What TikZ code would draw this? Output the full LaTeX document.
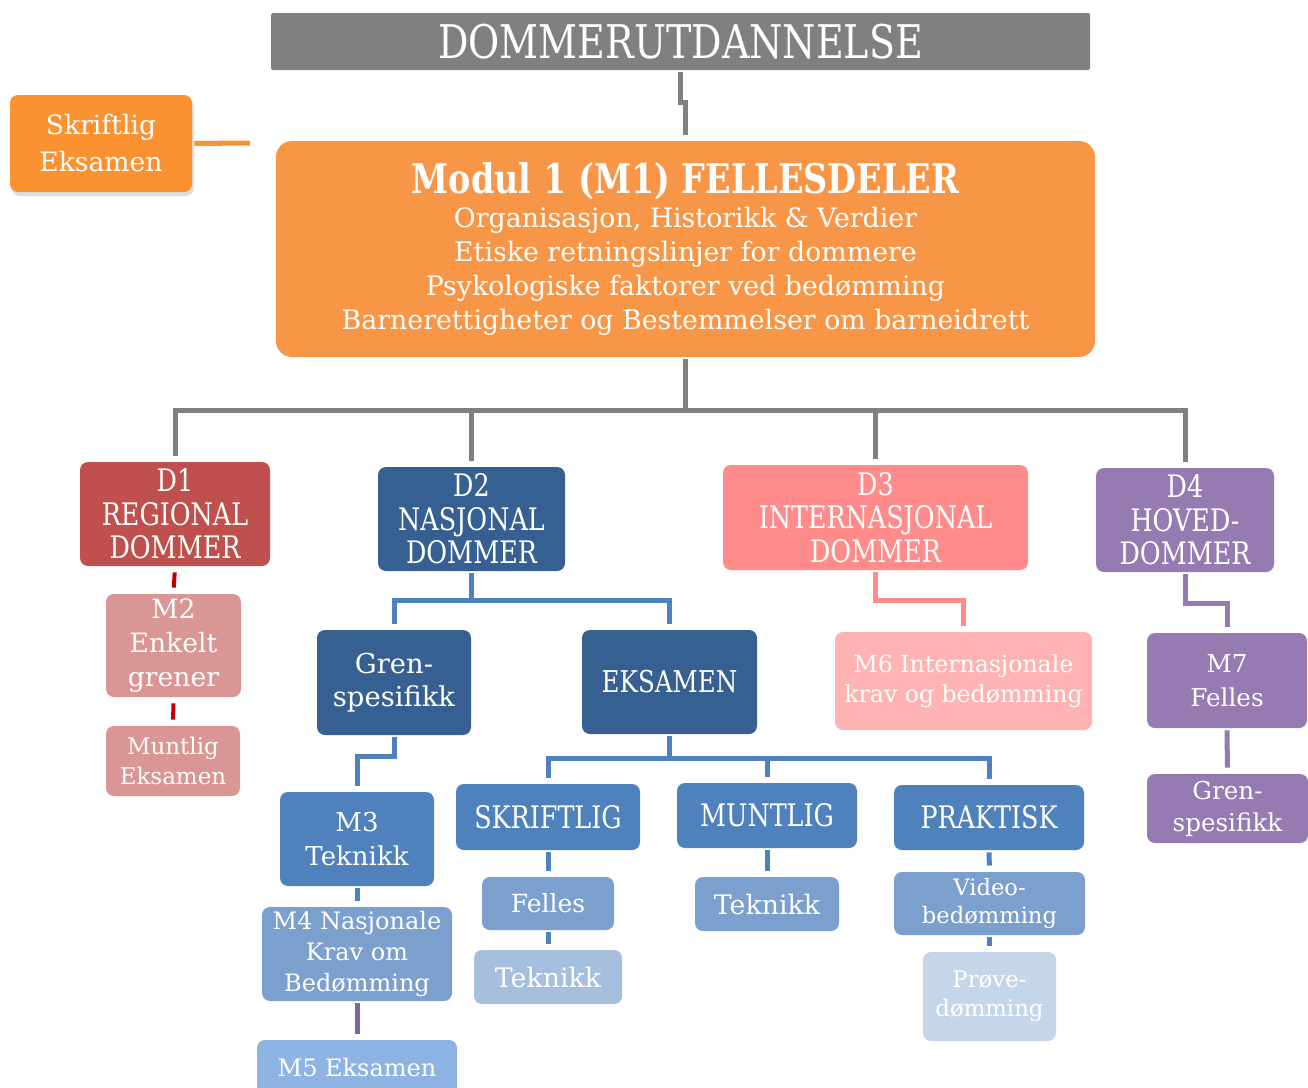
\documentclass[tikz,border=0pt]{standalone}
\usepackage{fontspec}
\setmainfont{DejaVu Serif}
\newfontfamily\capsfont{DejaVu Serif}[FakeStretch=0.82]
\usetikzlibrary{shadows}

\definecolor{titlegray}{HTML}{808080}
\definecolor{m1orange}{HTML}{F79646}
\definecolor{skrorange}{HTML}{FA9232}
\definecolor{d1red}{HTML}{C0504D}
\definecolor{m2pink}{HTML}{DA9694}
\definecolor{redline}{HTML}{C00000}
\definecolor{d2blue}{HTML}{366092}
\definecolor{midblue}{HTML}{4F81BD}
\definecolor{softblue}{HTML}{7BA0CD}
\definecolor{m5blue}{HTML}{8EB4E3}
\definecolor{paleblue}{HTML}{A7BFDE}
\definecolor{faintblue}{HTML}{C6D6EA}
\definecolor{d3salmon}{HTML}{FF8B8B}
\definecolor{m6rose}{HTML}{FFB3B3}
\definecolor{d4purple}{HTML}{957BB1}
\definecolor{purpleline}{HTML}{8064A2}

\newcommand{\fsz}[2]{\fontsize{#1}{#2}\selectfont}

\begin{document}
\begin{tikzpicture}[x = 0.5pt, y = -0.5pt,
    box/.style = {rounded corners=4pt, text=white, align=center, inner sep=0pt},
    link/.style = {line width=2.5pt, shorten <=1pt, shorten >=3pt}]
    \useasboundingbox (0,0) rectangle (1308,1088);

    % top
    \node[box, rounded corners=1pt, fill=titlegray, minimum width=409.5pt, minimum height=28.5pt,
        font=\capsfont\fsz{23.2}{26}] (title) at (680.5,41.5) {DOMMERUTDANNELSE};
    \node[box, fill=skrorange, minimum width=91pt, minimum height=48.5pt, font=\fsz{13.3}{18.5},
        drop shadow={opacity=0.25, shadow xshift=1pt, shadow yshift=-2pt}] (skr) at (101,143.5) {Skriftlig\\Eksamen};
    \coordinate (skrend) at (250,143);
    \node[box, rounded corners=8pt, fill=m1orange, minimum width=409.5pt, minimum height=108pt,
        font=\fsz{13.4}{17}] (m1) at (685.5,249)
        {{\capsfont\bfseries\fsz{20.4}{24}Modul 1 (M1) FELLESDELER}\\Organisasjon, Historikk \& Verdier\\
        Etiske retningslinjer for dommere\\Psykologiske faktorer ved bedømming\\
        Barnerettigheter og Bestemmelser om barneidrett};

    % dommer levels
    \node[box, fill=d1red, minimum width=95pt, minimum height=52pt, font=\capsfont\fsz{15.5}{16.75}]
        (d1) at (175,514) {D1\\REGIONAL\\DOMMER};
    \node[box, fill=d2blue, minimum width=93.5pt, minimum height=52pt, font=\capsfont\fsz{15.5}{16.75}]
        (d2) at (471.5,519) {D2\\NASJONAL\\DOMMER};
    \node[box, fill=d3salmon, minimum width=152.5pt, minimum height=52.5pt, font=\capsfont\fsz{15.5}{16.75}]
        (d3) at (875.5,517.5) {D3\\INTERNASJONAL\\DOMMER};
    \node[box, fill=d4purple, minimum width=89pt, minimum height=52pt, font=\capsfont\fsz{15.5}{16.75}]
        (d4) at (1185,520) {D4\\HOVED-\\DOMMER};

    % D1 branch
    \node[box, fill=m2pink, minimum width=67.5pt, minimum height=51.5pt, font=\fsz{13.3}{17}]
        (m2) at (173.5,645.5) {M2\\Enkelt\\grener};
    \node[box, fill=m2pink, minimum width=67pt, minimum height=35pt, font=\fsz{11.5}{15}]
        (muntex) at (173,761) {Muntlig\\Eksamen};

    % D2 branch
    \node[box, fill=d2blue, minimum width=77pt, minimum height=52.5pt, font=\fsz{13.7}{16.5}]
        (gren) at (394,682.5) {Gren-\\spesifikk};
    \node[box, fill=d2blue, minimum width=87.5pt, minimum height=52pt, font=\capsfont\fsz{15}{17}]
        (eks) at (669.5,682) {EKSAMEN};
    \node[box, fill=midblue, minimum width=77pt, minimum height=47pt, font=\fsz{13}{17}]
        (m3) at (357,839) {M3\\Teknikk};
    \node[box, fill=softblue, minimum width=95pt, minimum height=47pt, font=\fsz{12}{15.5}]
        (m4) at (357,954) {M4 Nasjonale\\Krav om\\Bedømming};
    \node[box, fill=m5blue, minimum width=100pt, minimum height=28pt, font=\fsz{12}{15}]
        (m5) at (357,1068) {M5 Eksamen};

    \node[box, fill=midblue, minimum width=92pt, minimum height=33pt, font=\capsfont\fsz{15.5}{17}]
        (skrift) at (548,817) {SKRIFTLIG};
    \node[box, fill=midblue, minimum width=90pt, minimum height=32.5pt, font=\capsfont\fsz{15.5}{17}]
        (muntl) at (767,815.5) {MUNTLIG};
    \node[box, fill=midblue, minimum width=95pt, minimum height=32.5pt, font=\capsfont\fsz{15.5}{17}]
        (prak) at (989,817.5) {PRAKTISK};
    \node[box, fill=softblue, minimum width=66pt, minimum height=26.5pt, font=\fsz{12.5}{15}]
        (felles) at (548,903.5) {Felles};
    \node[box, fill=paleblue, minimum width=74pt, minimum height=27pt, font=\fsz{13.4}{15}]
        (tek1) at (548,977) {Teknikk};
    \node[box, fill=softblue, minimum width=72pt, minimum height=27pt, font=\fsz{13.4}{15}]
        (tek2) at (767,904) {Teknikk};
    \node[box, fill=softblue, minimum width=95.5pt, minimum height=31.5pt, font=\fsz{11.3}{14}]
        (video) at (989.5,903.5) {Video-\\bedømming};
    \node[box, fill=faintblue, minimum width=66.5pt, minimum height=44.5pt, font=\fsz{11.4}{14.5}]
        (prove) at (989.5,996.5) {Prøve-\\dømming};

    % D3 and D4 branches
    \node[box, fill=m6rose, minimum width=128.5pt, minimum height=49pt, font=\fsz{11.8}{15}]
        (m6) at (963.5,681) {M6 Internasjonale\\krav og bedømming};
    \node[box, fill=d4purple, minimum width=80pt, minimum height=47.5pt, font=\fsz{12.3}{17}]
        (m7) at (1227,680.5) {M7\\Felles};
    \node[box, fill=d4purple, minimum width=80.5pt, minimum height=34.5pt, font=\fsz{12.3}{16}]
        (gren2) at (1227.5,808.5) {Gren-\\spesifikk};

    % connectors
    \draw[link, titlegray] (title.south) -- ++(0,32) -| (m1.north);
    \draw[link, skrorange, shorten >=0pt] (skr.east) -- (skrend);
    \draw[link, titlegray] (m1.south) -- ++(0,53) -| (d1.north);
    \draw[link, titlegray] (m1.south) -- ++(0,53) -| (d2.north);
    \draw[link, titlegray] (m1.south) -- ++(0,53) -| (d3.north);
    \draw[link, titlegray] (m1.south) -- ++(0,53) -| (d4.north);

    \draw[link, redline, line width=2pt, shorten <=3pt] (d1.south) -- (m2.north);
    \draw[link, redline, line width=2pt, shorten <=3pt] (m2.south) -- (muntex.north);

    \draw[link, midblue] (d2.south) -- ++(0,29) -| (gren.north);
    \draw[link, midblue] (d2.south) -- ++(0,29) -| (eks.north);
    \draw[link, midblue] (gren.south) -- ++(0,21) -| (m3.north);
    \draw[link, midblue] (m3.south) -- (m4.north);
    \draw[link, purpleline] (m4.south) -- (m5.north);
    \draw[link, midblue] (eks.south) -- ++(0,24) -| (skrift.north);
    \draw[link, midblue] (eks.south) -- ++(0,24) -| (muntl.north);
    \draw[link, midblue] (eks.south) -- ++(0,24) -| (prak.north);
    \draw[link, midblue] (skrift.south) -- (felles.north);
    \draw[link, midblue] (felles.south) -- (tek1.north);
    \draw[link, midblue] (muntl.south) -- (tek2.north);
    \draw[link, midblue] (prak.south) -- (video.north);
    \draw[link, midblue] (video.south) -- (prove.north);

    \draw[link, d3salmon] (d3.south) -- ++(0,30) -| (m6.north);
    \draw[link, d4purple] (d4.south) -- ++(0,31) -| (m7.north);
    \draw[link, d4purple] (m7.south) -- (gren2.north);
\end{tikzpicture}
\end{document}
